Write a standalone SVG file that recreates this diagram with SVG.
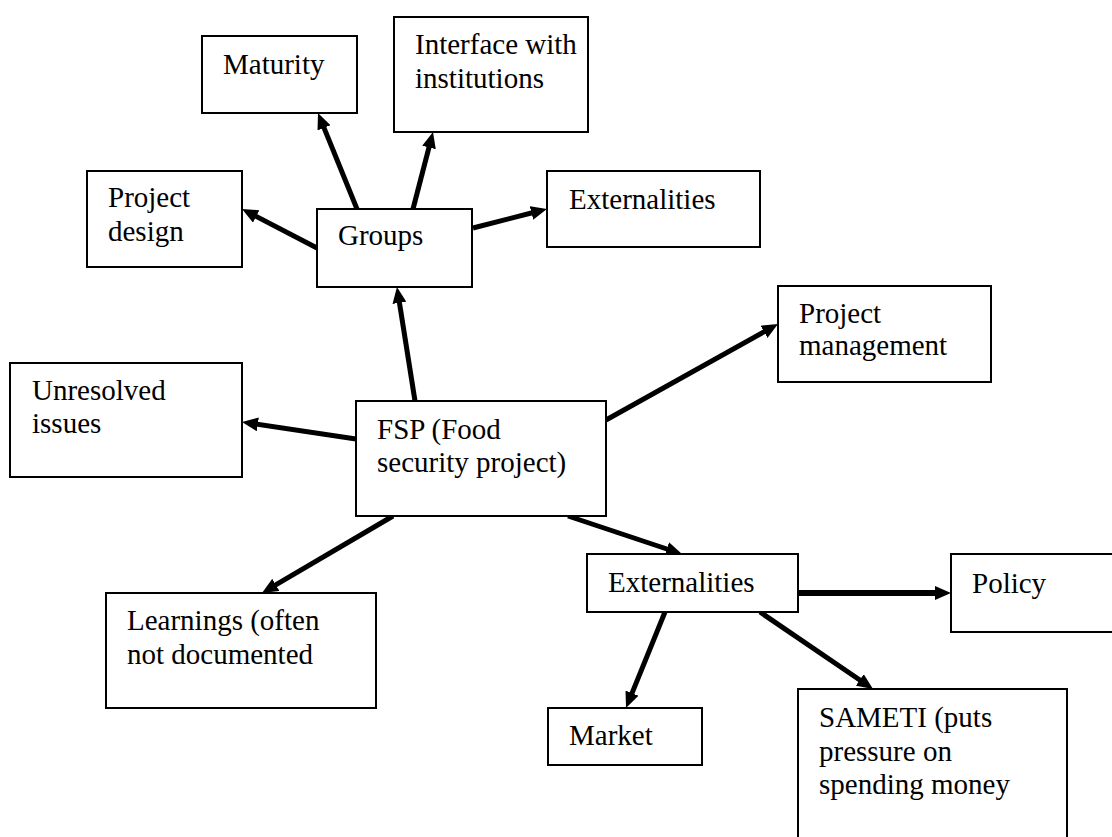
<svg xmlns="http://www.w3.org/2000/svg" width="1112" height="837" viewBox="0 0 1112 837">
<style>
.box{fill:#fff;stroke:#000;stroke-width:2}
.lbl{font-family:"Liberation Serif","Times New Roman",serif;font-size:29px;fill:#000}
.arr{stroke:#000;stroke-width:5;fill:none;marker-end:url(#ah)}
.arr2{stroke:#000;stroke-width:6;fill:none;marker-end:url(#ah)}
</style>
<defs>
<marker id="ah" markerUnits="userSpaceOnUse" markerWidth="16" markerHeight="14" refX="8" refY="7" orient="auto" viewBox="0 0 16 14">
<path d="M0,0 L16,7 L0,14 z" fill="#000"/>
</marker>
</defs>
<rect width="1112" height="837" fill="#fff"/>
<g id="connectors">
<line class="arr" x1="317" y1="248" x2="249.1" y2="212.7"/>
<line class="arr" x1="357" y1="209" x2="321.0" y2="120.4"/>
<line class="arr" x1="413" y1="209" x2="431.0" y2="139.7"/>
<line class="arr" x1="473" y1="228" x2="539.2" y2="211.0"/>
<line class="arr" x1="415" y1="401" x2="398.2" y2="294.9"/>
<line class="arr" x1="356" y1="439" x2="249.9" y2="423.2"/>
<line class="arr" x1="606" y1="420" x2="771.0" y2="327.9"/>
<line class="arr" x1="393" y1="516" x2="268.9" y2="588.9"/>
<line class="arr" x1="568" y1="516" x2="674.4" y2="551.5"/>
<line class="arr2" x1="798" y1="593" x2="943" y2="593"/>
<line class="arr" x1="665" y1="612" x2="629.0" y2="700.6"/>
<line class="arr" x1="760" y1="612" x2="866.4" y2="684.5"/>
</g>
<g id="maturity"><rect class="box" x="202" y="36" width="155" height="77"/><text class="lbl" x="223" y="74">Maturity</text></g>
<g id="interface"><rect class="box" x="394" y="17" width="194" height="115"/><text class="lbl" x="415" y="54">Interface with</text><text class="lbl" x="415" y="88">institutions</text></g>
<g id="project-design"><rect class="box" x="87" y="171" width="155" height="96"/><text class="lbl" x="108" y="207">Project</text><text class="lbl" x="108" y="241">design</text></g>
<g id="groups"><rect class="box" x="317" y="209" width="155" height="78"/><text class="lbl" x="338" y="245">Groups</text></g>
<g id="externalities-top"><rect class="box" x="547" y="171" width="213" height="76"/><text class="lbl" x="569" y="209">Externalities</text></g>
<g id="project-management"><rect class="box" x="778" y="286" width="213" height="96"/><text class="lbl" x="799" y="323">Project</text><text class="lbl" x="799" y="355">management</text></g>
<g id="unresolved"><rect class="box" x="10" y="363" width="232" height="114"/><text class="lbl" x="32" y="400">Unresolved</text><text class="lbl" x="32" y="433">issues</text></g>
<g id="fsp"><rect class="box" x="356" y="401" width="250" height="115"/><text class="lbl" x="377" y="439">FSP (Food</text><text class="lbl" x="377" y="472">security project)</text></g>
<g id="learnings"><rect class="box" x="106" y="593" width="270" height="115"/><text class="lbl" x="127" y="630">Learnings (often</text><text class="lbl" x="127" y="664">not documented</text></g>
<g id="externalities-bottom"><rect class="box" x="587" y="554" width="211" height="58"/><text class="lbl" x="608" y="592">Externalities</text></g>
<g id="policy"><rect class="box" x="951" y="554" width="170" height="78"/><text class="lbl" x="972" y="593">Policy</text></g>
<g id="market"><rect class="box" x="548" y="708" width="154" height="57"/><text class="lbl" x="569" y="745">Market</text></g>
<g id="sameti"><rect class="box" x="798" y="689" width="269" height="160"/><text class="lbl" x="819" y="727">SAMETI (puts</text><text class="lbl" x="819" y="761">pressure on</text><text class="lbl" x="819" y="794">spending money</text></g>
</svg>
